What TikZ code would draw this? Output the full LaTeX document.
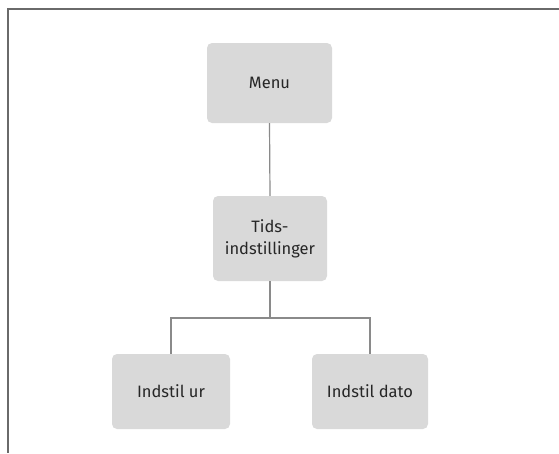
\documentclass[tikz,border=0pt]{standalone}
\usepackage{fontspec}
\setmainfont{Fira Sans}
\begin{document}
\begin{tikzpicture}[x=1pt,y=-1pt,
  box/.style={fill=boxgray, rounded corners=5pt, inner sep=0pt, align=center,
    font=\fontsize{16.5}{22}\selectfont, text=black!85},
  conn/.style={draw=linegray, line width=1.2pt}]
\definecolor{boxgray}{HTML}{D9D9D9}
\definecolor{linegray}{HTML}{8A8A8A}
\definecolor{framegray}{HTML}{6A6A6A}
\useasboundingbox (0,0) rectangle (559,453);
\coordinate (ftl) at (8,9);
\coordinate (ftr) at (559,9);
\coordinate (fbl) at (8,453);
\draw[framegray, line width=1.5pt] (ftr) -- (ftl) -- (fbl);
\node[box, minimum width=125pt, minimum height=80pt] (menu) at (269.5,83) {Menu};
\node[box, minimum width=114pt, minimum height=85pt] (tids) at (270,238.5) {Tids-\\indstillinger};
\node[box, minimum width=118pt, minimum height=75pt] (ur) at (171,391.5) {Indstil ur};
\node[box, minimum width=116pt, minimum height=75pt] (dato) at (370,391.5) {Indstil dato};
\coordinate (split) at (270,318);
\draw[conn] (menu.south) -- (tids.north);
\draw[conn] (tids.south) -- (split);
\draw[conn] (ur.north) |- (split) -| (dato.north);
\end{tikzpicture}
\end{document}
